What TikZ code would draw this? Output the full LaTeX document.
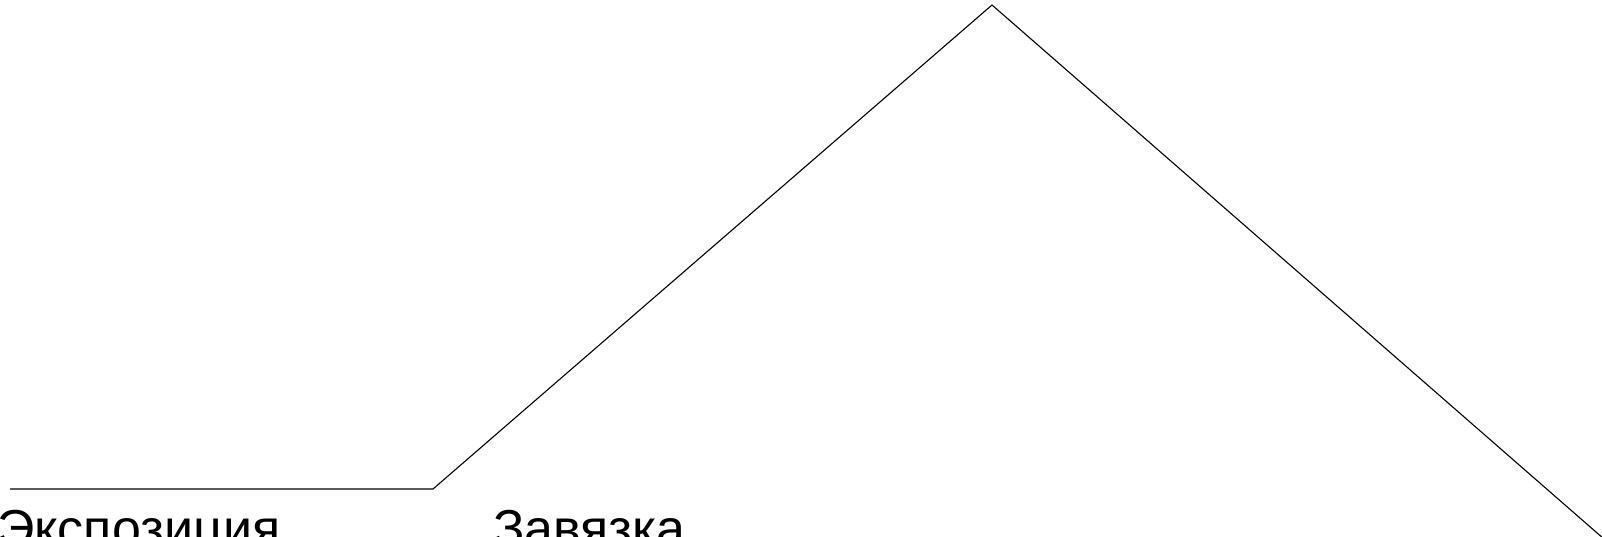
\documentclass[tikz,border=0pt]{standalone}
\usepackage{fontspec}
\setmainfont{Liberation Sans}
\usetikzlibrary{positioning}

\begin{document}
\begin{tikzpicture}[
  x=1pt, y=-1pt,
  plotline/.style={draw=black, line width=1.1pt, line join=miter},
  stagelabel/.style={anchor=base west, inner sep=0pt, font=\fontsize{52}{60}\selectfont}
]
  \useasboundingbox (0,0) rectangle (1602,537);
  \clip (0,0) rectangle (1602,537);
  % plot curve
  \coordinate (start) at (10,489);
  \coordinate (tie) at (433,489);
  \coordinate (climax) at (992,5);
  \coordinate (finish) at (1612,546);
  \draw[plotline] (start) -- (tie) -- (climax) -- (finish);
  % stage names
  \node[stagelabel] (expo) at (-3,546) {Экспозиция};
  \node[stagelabel] (zav) at (493,546) {Завязка};
\end{tikzpicture}
\end{document}
